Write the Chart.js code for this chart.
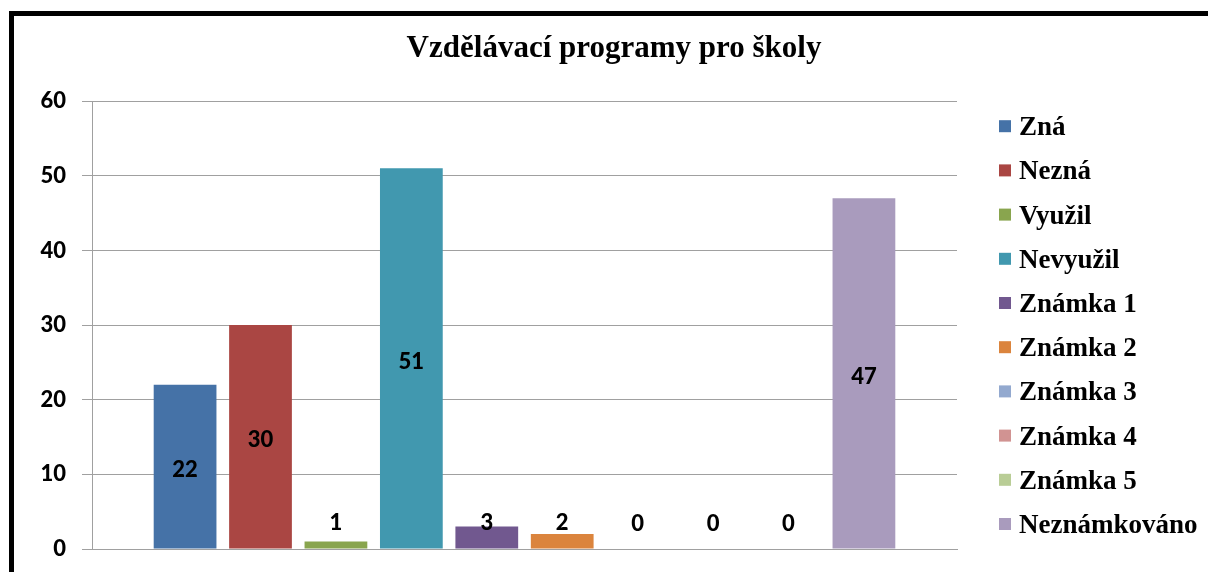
<!DOCTYPE html>
<html>
<head>
<meta charset="utf-8">
<script src="https://cdn.jsdelivr.net/npm/chart.js@4/dist/chart.umd.min.js"></script>
<style>
  html, body { margin: 0; padding: 0; background: #fff; overflow: hidden; }
  #wrap { position: relative; width: 1208px; height: 572px; }
  #frame { position: absolute; left: 9px; top: 11px; width: 1400px; height: 800px;
           border-left: 5px solid #000; border-top: 5px solid #000; pointer-events: none; }
  canvas { position: absolute; left: 0; top: 0; }
</style>
</head>
<body>
<div id="wrap">
  <canvas id="c" width="1208" height="572"></canvas>
  <div id="frame"></div>
</div>
<script>
const chartTitle = 'Vzdělávací programy pro školy';
const seriesNames = ['Zná', 'Nezná', 'Využil', 'Nevyužil', 'Známka 1', 'Známka 2', 'Známka 3', 'Známka 4', 'Známka 5', 'Neznámkováno'];
const seriesValues = [22, 30, 1, 51, 3, 2, 0, 0, 0, 47];
const seriesColors = ['#4572A7', '#AA4643', '#89A54E', '#4198AF', '#71588F', '#DB843D', '#93A9CF', '#D19392', '#B9CD96', '#A99BBD'];
const yTicks = [0, 10, 20, 30, 40, 50, 60];

const datasets = seriesNames.map((name, i) => ({
  label: name,
  data: [seriesValues[i]],
  backgroundColor: seriesColors[i],
  borderWidth: 0,
  categoryPercentage: 0.872,
  barPercentage: 0.832
}));

const valueLabels = {
  id: 'valueLabels',
  afterDatasetsDraw(chart) {
    const ctx = chart.ctx;
    ctx.save();
    ctx.font = '900 22px Lato';
    ctx.fillStyle = '#000';
    ctx.textAlign = 'center';
    ctx.textBaseline = 'alphabetic';
    chart.data.datasets.forEach((ds, i) => {
      const meta = chart.getDatasetMeta(i);
      const bar = meta.data[0];
      const mid = (bar.y + bar.base) / 2 + 2.5;
      const cy = Math.min(mid, bar.base - 26.5);
      ctx.fillText(String(ds.data[0]), bar.x, cy + 8);
    });
    ctx.restore();
  }
};

const sideLegend = {
  id: 'sideLegend',
  afterDraw(chart) {
    const ctx = chart.ctx;
    const area = chart.chartArea;
    const items = chart.data.datasets;
    const step = 44.2;
    const center = (area.top + area.bottom) / 2;
    const first = center - (items.length - 1) / 2 * step;
    const x = area.right + 42;
    ctx.save();
    ctx.font = 'bold 27px "Liberation Serif"';
    ctx.textAlign = 'left';
    ctx.textBaseline = 'alphabetic';
    items.forEach((ds, i) => {
      const cy = first + i * step;
      ctx.fillStyle = ds.backgroundColor;
      ctx.fillRect(x, cy - 6, 12, 12);
      ctx.fillStyle = '#000';
      ctx.fillText(ds.label, x + 20, cy + 9);
    });
    ctx.restore();
  }
};

new Chart(document.getElementById('c'), {
  type: 'bar',
  data: { labels: [''], datasets },
  options: {
    responsive: false,
    animation: false,
    devicePixelRatio: 1,
    layout: { padding: { left: 20, right: 0, top: 0, bottom: 23 } },
    plugins: {
      legend: { display: false },
      tooltip: { enabled: false },
      title: {
        display: true,
        text: chartTitle,
        color: '#000',
        font: { family: '"Liberation Serif"', size: 31, weight: 'bold' },
        padding: { top: 30, bottom: 34 }
      }
    },
    scales: {
      x: {
        grid: { display: false },
        ticks: { display: false },
        border: { display: true, color: '#a0a0a0', width: 1 },
        afterFit(scale) { scale.height = 0; }
      },
      y: {
        min: 0,
        max: 60,
        afterBuildTicks(scale) { scale.ticks = yTicks.map(v => ({ value: v })); },
        ticks: { color: '#000', font: { family: 'Lato', size: 22, weight: 900 }, padding: 16 },
        grid: { color: '#a0a0a0', lineWidth: 1, tickLength: 10, drawTicks: true },
        border: { display: true, color: '#a0a0a0', width: 1 },
        afterFit(scale) { scale.width = 72; scale.paddingTop = 13; scale.paddingBottom = 13; }
      },
      yR: {
        position: 'right',
        display: true,
        grid: { display: false, drawTicks: false },
        ticks: { display: false },
        border: { display: false },
        afterFit(scale) { scale.width = 251; scale.paddingTop = 0; scale.paddingBottom = 0; }
      }
    }
  },
  plugins: [valueLabels, sideLegend]
});
</script>
</body>
</html>
